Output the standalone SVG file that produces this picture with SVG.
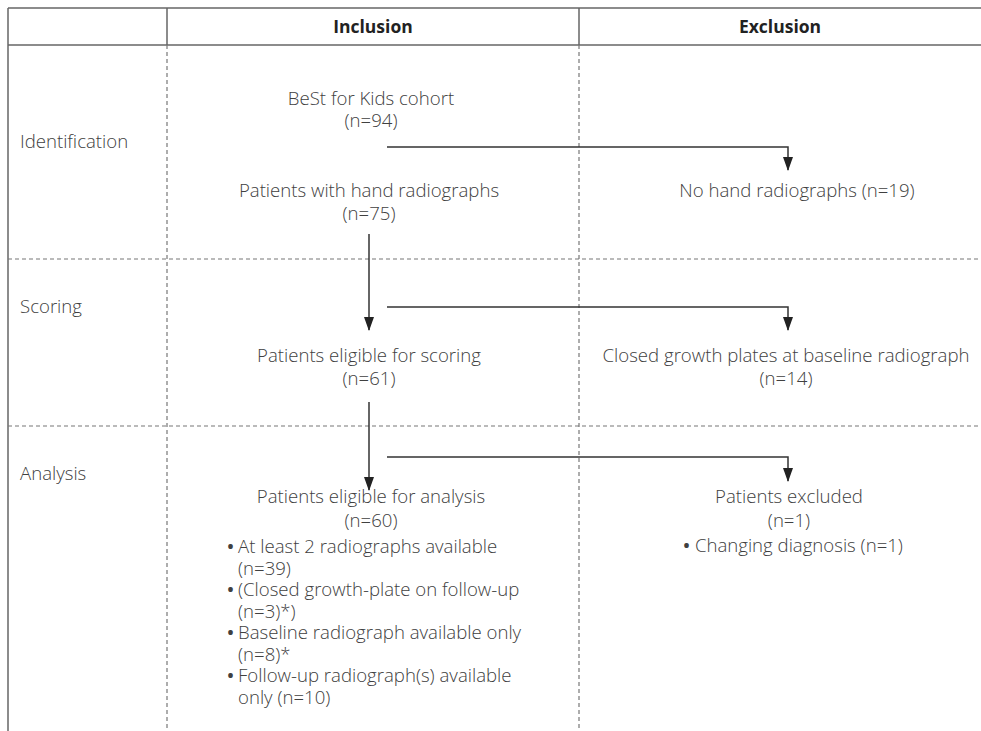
<svg xmlns="http://www.w3.org/2000/svg" width="981" height="731" viewBox="0 0 981 731">
<style>
text{font-family:"Open Sans","Liberation Sans",sans-serif;font-size:18.6px;font-weight:300;fill:#404040}
.h{font-weight:bold;fill:#222;font-size:17.5px}
.c{text-anchor:middle}
.b{font-weight:600}
.solid{stroke:#666;stroke-width:1.5;fill:none}
.dash{stroke:#777;stroke-width:1.2;stroke-dasharray:4 3;fill:none}
.arr{stroke:#333;stroke-width:1.5;fill:none}
</style>
<defs>
<marker id="ah" viewBox="0 0 14 10" refX="13" refY="5" markerWidth="14" markerHeight="10" markerUnits="userSpaceOnUse" orient="auto">
<path d="M0,0 L14,5 L0,10 Z" fill="#222"/>
</marker>
</defs>
<g id="grid">
<line class="solid" x1="8" y1="8" x2="981" y2="8"/>
<line class="solid" x1="8" y1="45" x2="981" y2="45"/>
<line class="solid" x1="8" y1="8" x2="8" y2="731"/>
<line class="solid" x1="167" y1="8" x2="167" y2="45"/>
<line class="solid" x1="579" y1="8" x2="579" y2="45"/>
<line class="dash" x1="167" y1="45" x2="167" y2="731"/>
<line class="dash" x1="579" y1="45" x2="579" y2="731"/>
<line class="dash" x1="8" y1="259" x2="981" y2="259"/>
<line class="dash" x1="8" y1="426" x2="981" y2="426"/>
</g>
<g id="headers">
<text class="h c" x="373" y="33">Inclusion</text>
<text class="h c" x="780" y="33">Exclusion</text>
</g>
<g id="stage-labels">
<text x="20" y="148">Identification</text>
<text x="20" y="313">Scoring</text>
<text x="20" y="480">Analysis</text>
</g>
<g id="node-cohort">
<text class="c" x="371" y="105">BeSt for Kids cohort</text>
<text class="c" x="371" y="127">(n=94)</text>
</g>
<g id="node-hand">
<text class="c" x="369" y="197">Patients with hand radiographs</text>
<text class="c" x="369" y="220">(n=75)</text>
</g>
<g id="node-nohand">
<text class="c" x="797" y="197">No hand radiographs (n=19)</text>
</g>
<g id="node-scoring">
<text class="c" x="369" y="362">Patients eligible for scoring</text>
<text class="c" x="369" y="385">(n=61)</text>
</g>
<g id="node-closed">
<text class="c" x="786" y="362">Closed growth plates at baseline radiograph</text>
<text class="c" x="786" y="385">(n=14)</text>
</g>
<g id="node-analysis">
<text class="c" x="371" y="503">Patients eligible for analysis</text>
<text class="c" x="371" y="527">(n=60)</text>
<text y="553"><tspan class="b" x="227" y="553">•</tspan><tspan x="238" y="553">At least 2 radiographs available</tspan><tspan x="238" y="574.5">(n=39)</tspan><tspan class="b" x="227" y="596">•</tspan><tspan x="238" y="596">(Closed growth-plate on follow-up</tspan><tspan x="238" y="617.5">(n=3)*)</tspan><tspan class="b" x="227" y="639">•</tspan><tspan x="238" y="639">Baseline radiograph available only</tspan><tspan x="238" y="660.5">(n=8)*</tspan><tspan class="b" x="227" y="682">•</tspan><tspan x="238" y="682">Follow-up radiograph(s) available</tspan><tspan x="238" y="703.5">only (n=10)</tspan></text>
</g>
<g id="node-excluded">
<text class="c" x="789" y="503">Patients excluded</text>
<text class="c" x="789" y="527">(n=1)</text>
<text class="c" x="793" y="552"><tspan class="b">•</tspan> Changing diagnosis (n=1)</text>
</g>
<g id="connectors">
<path class="arr" d="M387,147 H788 V170" marker-end="url(#ah)"/>
<path class="arr" d="M369,234 V330" marker-end="url(#ah)"/>
<path class="arr" d="M387,307 H788 V330" marker-end="url(#ah)"/>
<path class="arr" d="M369,402 V490" marker-end="url(#ah)"/>
<path class="arr" d="M387,457 H788 V481" marker-end="url(#ah)"/>
</g>
</svg>
